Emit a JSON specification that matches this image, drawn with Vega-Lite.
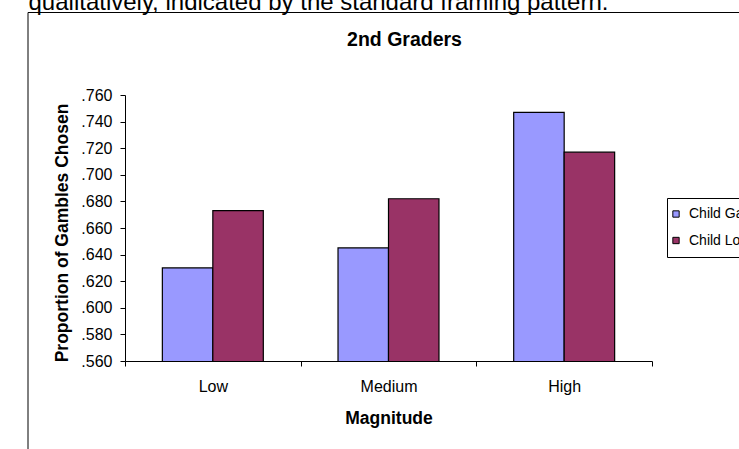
{
  "$schema": "https://vega.github.io/schema/vega-lite/v6.json",
  "width": 527,
  "height": 266,
  "autosize": {"type": "none"},
  "padding": {"left": 125, "top": 95, "right": 87, "bottom": 88},
  "background": "white",
  "data": {
    "values": [
      {"Magnitude": "Low", "Series": "Child Gain", "Proportion": 0.630},
      {"Magnitude": "Low", "Series": "Child Loss", "Proportion": 0.673},
      {"Magnitude": "Medium", "Series": "Child Gain", "Proportion": 0.645},
      {"Magnitude": "Medium", "Series": "Child Loss", "Proportion": 0.682},
      {"Magnitude": "High", "Series": "Child Gain", "Proportion": 0.747},
      {"Magnitude": "High", "Series": "Child Loss", "Proportion": 0.717}
    ]
  },
  "layer": [
    {
      "mark": {"type": "bar", "stroke": "black", "strokeWidth": 1.2, "clip": true},
      "encoding": {
        "x": {
          "field": "Magnitude",
          "type": "nominal",
          "sort": ["Low", "Medium", "High"],
          "scale": {"paddingInner": 0, "paddingOuter": 0},
          "axis": {
            "orient": "bottom",
            "title": "Magnitude",
            "labelAngle": 0,
            "tickBand": "extent",
            "tickSize": 5,
            "labelPadding": 12,
            "labelFontSize": 16,
            "titleX": 263.5,
            "titleY": 62,
            "titleAlign": "center",
            "titleBaseline": "alphabetic",
            "titleFontSize": 17.5,
            "titleFontWeight": "bold"
          }
        },
        "xOffset": {
          "field": "Series",
          "scale": {"paddingInner": 0, "paddingOuter": 0.74}
        },
        "y": {
          "field": "Proportion",
          "type": "quantitative",
          "scale": {"domain": [0.56, 0.76], "zero": false, "nice": false},
          "axis": {
            "orient": "left",
            "values": [0.56, 0.58, 0.6, 0.62, 0.64, 0.66, 0.68, 0.7, 0.72, 0.74, 0.76],
            "labelExpr": "replace(format(datum.value, '.3f'), '0.', '.')",
            "title": "Proportion of Gambles Chosen",
            "titleX": -58,
            "titleY": 137.5,
            "titleAngle": -90,
            "titleAlign": "center",
            "titleBaseline": "alphabetic",
            "titleFontSize": 17.5,
            "titleFontWeight": "bold",
            "labelFontSize": 16,
            "labelPadding": 8,
            "tickSize": 5,
            "grid": false
          }
        },
        "color": {
          "field": "Series",
          "type": "nominal",
          "scale": {"domain": ["Child Gain", "Child Loss"], "range": ["#9999FF", "#993366"]},
          "legend": {
            "orient": "none",
            "legendX": 542,
            "legendY": 103,
            "title": null,
            "padding": 9,
            "fillColor": "white",
            "strokeColor": "black",
            "rowPadding": 12.5,
            "symbolType": "square",
            "symbolSize": 40,
            "symbolOffset": -7,
            "symbolStrokeColor": "black",
            "symbolStrokeWidth": 1,
            "labelFontSize": 14,
            "labelOffset": 6,
            "labelColor": "black"
          }
        }
      }
    },
    {
      "mark": {"type": "point", "opacity": 0},
      "encoding": {
        "x": {
          "field": "Magnitude",
          "type": "nominal",
          "sort": ["Low", "Medium", "High"],
          "axis": {
            "orient": "top",
            "domain": false,
            "ticks": false,
            "labels": false,
            "grid": false,
            "title": "2nd Graders",
            "titleX": 279,
            "titleY": -50,
            "titleAlign": "center",
            "titleBaseline": "alphabetic",
            "titleFontSize": 19.5,
            "titleFontWeight": "bold"
          }
        },
        "y": {
          "field": "Proportion",
          "type": "quantitative",
          "axis": {
            "orient": "right",
            "domain": false,
            "ticks": false,
            "labels": false,
            "grid": false,
            "title": "qualitatively, indicated by the standard framing pattern.",
            "titleAngle": 0,
            "titleX": -624,
            "titleY": -85.7,
            "titleAlign": "left",
            "titleBaseline": "alphabetic",
            "titleFontSize": 24,
            "titleFontWeight": "normal"
          }
        },
        "shape": {
          "field": "Magnitude",
          "type": "nominal",
          "legend": {
            "orient": "none",
            "legendX": -97.5,
            "legendY": -83,
            "title": null,
            "padding": 520,
            "strokeColor": "black",
            "symbolOpacity": 0,
            "symbolStrokeWidth": 0,
            "labelOpacity": 0,
            "encode": {"legend": {"update": {"strokeWidth": {"value": 2}}}}
          }
        }
      }
    }
  ],
  "resolve": {"axis": {"x": "independent", "y": "independent"}},
  "config": {
    "font": "Liberation Sans",
    "view": {"stroke": null},
    "axis": {
      "domainColor": "black",
      "tickColor": "black",
      "labelColor": "black",
      "titleColor": "black",
      "labelFont": "Liberation Sans",
      "titleFont": "Liberation Sans"
    },
    "legend": {"labelFont": "Liberation Sans"}
  }
}
